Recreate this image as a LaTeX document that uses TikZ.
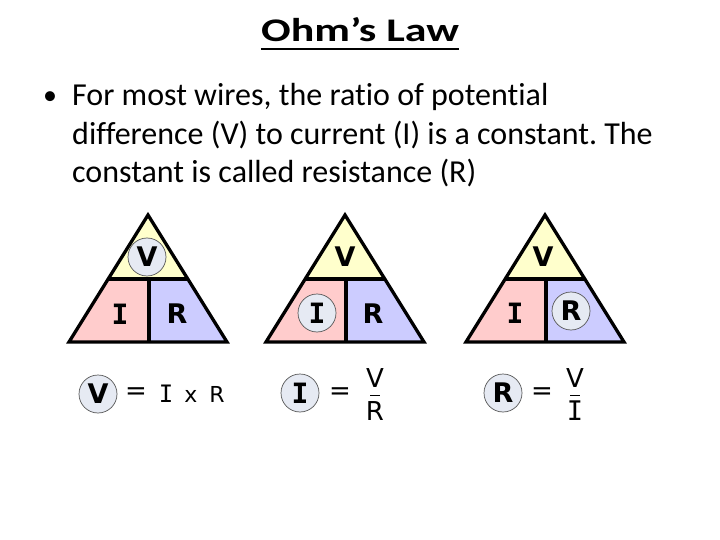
\documentclass[tikz,border=0pt]{standalone}
\usepackage{fontspec}
\setmainfont{Carlito}[Ligatures=NoCommon]
\newfontfamily\verd{DejaVu Sans}
\newfontfamily\verdmono{DejaVu Sans Mono}
\definecolor{triY}{HTML}{FFFFCC}
\definecolor{triP}{HTML}{FFCCCC}
\definecolor{triB}{HTML}{CCCCFF}
\definecolor{circF}{HTML}{E6EAF3}
\definecolor{circD}{HTML}{555555}
\tikzset{
  trioutline/.style={line width=3.3pt, line join=miter, draw=black},
  letter/.style={inner sep=0pt, font=\verd\bfseries\fontsize{27}{27}\selectfont},
  letterI/.style={inner sep=0pt, font=\verdmono\bfseries\fontsize{28}{28}\selectfont},
  hl/.style={circle, draw=circD, line width=0.7pt, fill=circF, minimum size=38pt, inner sep=0pt},
  frm/.style={inner sep=0pt, anchor=base, font=\verd\fontsize{22}{22}\selectfont},
  frmI/.style={inner sep=0pt, anchor=base, font=\verdmono\fontsize{24}{24}\selectfont},
  frac/.style={inner sep=0pt, anchor=base, font=\verd\fontsize{26}{26}\selectfont},
  fracI/.style={inner sep=0pt, anchor=base, font=\verdmono\fontsize{27}{27}\selectfont},
  eqs/.style={inner sep=0pt, font=\verd\fontsize{26}{26}\selectfont},
  body/.style={inner sep=0pt, anchor=base west, font=\fontsize{32}{38}\selectfont},
}
\begin{document}
\frenchspacing
\begin{tikzpicture}[x=1pt, y=-1pt]
\fill[white] (0,0) rectangle (720,540);
\useasboundingbox (0,0) rectangle (720,540);

% title
\node[inner sep=0pt, anchor=base, font=\bfseries\fontsize{33}{33}\selectfont] (title) at (360,42) {\scalebox{1.33}[1]{Ohm’s Law}};
\draw[line width=2pt] ([yshift=-7.5pt]title.base west) -- ([yshift=-7.5pt]title.base east);

% bullet text
\node[inner sep=0pt, anchor=base, font=\fontsize{28}{38}\selectfont] (bul) at (50,105) {•};
\node[body] (l1) at (72,106) {For most wires, the ratio of potential};
\node[body] (l2) at (72,144.5) {difference (V) to current (I) is a constant. The};
\node[body] (l3) at (72,183) {constant is called resistance (R)};

% triangle 1
\begin{scope}[shift={(148,0)}]
  \fill[triY] (0,215) -- (39.8,279) -- (-39.8,279) -- cycle;
  \fill[triP] (-39.8,279) -- (1,279) -- (1,342) -- (-79,342) -- cycle;
  \fill[triB] (1,279) -- (39.8,279) -- (79,342) -- (1,342) -- cycle;
  \draw[trioutline] (0,215) -- (79,342) -- (-79,342) -- cycle;
  \draw[trioutline] (-39.8,279) -- (39.8,279);
  \draw[trioutline] (1,279) -- (1,342);
  \node[letter, hl] (t1v) at (-1,257) {V};
  \node[letterI] (t1i) at (-28,314) {I};
  \node[letter] (t1r) at (29,314) {R};
\end{scope}

% triangle 2
\begin{scope}[shift={(345,0)}]
  \fill[triY] (0,215) -- (39.8,279) -- (-39.8,279) -- cycle;
  \fill[triP] (-39.8,279) -- (1,279) -- (1,342) -- (-79,342) -- cycle;
  \fill[triB] (1,279) -- (39.8,279) -- (79,342) -- (1,342) -- cycle;
  \draw[trioutline] (0,215) -- (79,342) -- (-79,342) -- cycle;
  \draw[trioutline] (-39.8,279) -- (39.8,279);
  \draw[trioutline] (1,279) -- (1,342);
  \node[letter] (t2v) at (0,257) {V};
  \node[letterI, hl] (t2i) at (-28,313) {I};
  \node[letter] (t2r) at (28,314) {R};
\end{scope}

% triangle 3
\begin{scope}[shift={(545,0)}]
  \fill[triY] (0,215) -- (39.8,279) -- (-39.8,279) -- cycle;
  \fill[triP] (-39.8,279) -- (1,279) -- (1,342) -- (-79,342) -- cycle;
  \fill[triB] (1,279) -- (39.8,279) -- (79,342) -- (1,342) -- cycle;
  \draw[trioutline] (0,215) -- (79,342) -- (-79,342) -- cycle;
  \draw[trioutline] (-39.8,279) -- (39.8,279);
  \draw[trioutline] (1,279) -- (1,342);
  \node[letter] (t3v) at (-2,257) {V};
  \node[letterI] (t3i) at (-30,313) {I};
  \node[letter, hl] (t3r) at (26,311) {R};
\end{scope}

% formula 1
\node[letter, hl] (f1v) at (98,394) {V};
\node[eqs] (f1eq) at (136,394) {=};
\node[frmI] (f1i) at (166,402) {I};
\node[frm] (f1x) at (191,402) {x};
\node[frm] (f1r) at (217,402) {R};

% formula 2
\node[letterI, hl] (f2i) at (300,393) {I};
\node[eqs] (f2eq) at (340,394) {=};
\node[frac] (f2n) at (375,387) {V};
\node[frac] (f2d) at (375,420) {R};
\coordinate (f2a) at (370,395);
\coordinate (f2b) at (380,395);
\draw[line width=1pt] (f2a) -- (f2b);

% formula 3
\node[letter, hl] (f3r) at (503,393) {R};
\node[eqs] (f3eq) at (542,394) {=};
\node[frac] (f3n) at (575,387) {V};
\node[fracI] (f3d) at (575,420) {I};
\coordinate (f3a) at (570,395);
\coordinate (f3b) at (580,395);
\draw[line width=1pt] (f3a) -- (f3b);
\end{tikzpicture}
\end{document}
